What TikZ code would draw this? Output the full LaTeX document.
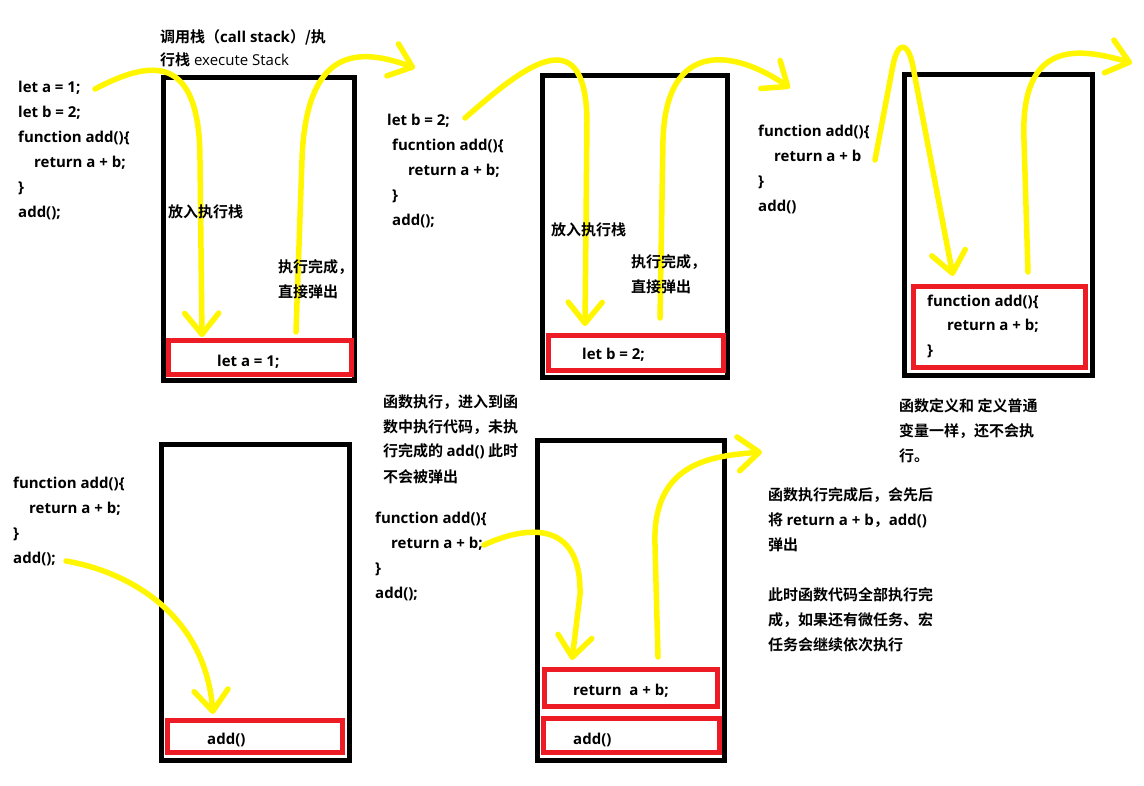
\documentclass[tikz,border=0pt]{standalone}
\usepackage{fontspec}
\setmainfont{Open Sans}[BoldFont={Open Sans Bold}]
\newfontfamily\cjk{Noto Sans CJK SC}[BoldFont={Noto Sans CJK SC Bold}]
\usetikzlibrary{arrows.meta}
\definecolor{paintred}{RGB}{237,28,36}
\definecolor{paintyellow}{RGB}{255,246,0}
\tikzset{
  stackbox/.style={draw=black, line width=4.5pt},
  redbox/.style={draw=paintred, line width=4.5pt},
  hand/.style={draw=paintyellow, line width=5.5pt, line cap=round, line join=round,
    -{Straight Barb[length=21pt,width=34pt,round]}},
  code/.style={font=\bfseries\fontsize{15}{25}\selectfont, align=left, anchor=base west, inner sep=0pt},
  zh/.style={code, font=\bfseries\cjk\fontsize{15}{25}\selectfont},
}
\begin{document}
\begin{tikzpicture}[x=1pt,y=-1pt]
  \fill[white] (0,0) rectangle (1144,786);
  \useasboundingbox (0,0) rectangle (1144,786);

  \draw[stackbox] (163.5,77.5) rectangle (354.5,380.5);
  \draw[redbox] (168.5,340.5) rectangle (351.5,374.5);
  \draw[stackbox] (542.5,75.5) rectangle (727.5,377.5);
  \draw[redbox] (548.5,335.5) rectangle (723.5,370.5);
  \draw[stackbox] (904.5,74.5) rectangle (1092.5,375.5);
  \draw[redbox] (913.5,286.5) rectangle (1085.5,367.5);
  \draw[stackbox] (161.5,444.5) rectangle (349.5,760.5);
  \draw[redbox] (167.5,720.5) rectangle (342.5,752.5);
  \draw[stackbox] (537.5,440.5) rectangle (724.5,760.5);
  \draw[redbox] (544.5,669.5) rectangle (717.5,706.5);
  \draw[redbox] (543.5,718.5) rectangle (719.5,752.5);

  \coordinate (inA) at (95,89);
  \coordinate (topA) at (202,337);
  \coordinate (outA) at (296,332);
  \coordinate (nextA) at (415,68);
  \coordinate (inB) at (465,118);
  \coordinate (topB) at (585,326);
  \coordinate (outB) at (660,318);
  \coordinate (nextB) at (790,88);
  \coordinate (inC) at (875,160);
  \coordinate (topC) at (953,276);
  \coordinate (outC) at (1028,272);
  \coordinate (nextC) at (1132,63);
  \coordinate (inD) at (66,561);
  \coordinate (topD) at (213,714);
  \coordinate (inE) at (484,545);
  \coordinate (topE) at (572,660);
  \coordinate (outE) at (658,657);
  \coordinate (nextE) at (762,452);

  \draw[hand] (inA) .. controls (150,60) and (200,52) .. (200,160) -- (topA);
  \draw[hand] (outA) -- (302,160) .. controls (306,45) and (360,48) .. (nextA);
  \draw[hand] (inB) .. controls (520,70) and (585,15) .. (587,120) -- (topB);
  \draw[hand] (outB) -- (663,140) .. controls (666,38) and (735,50) .. (nextB);
  \draw[hand] (inC) -- (893,65) .. controls (898,40) and (909,40) .. (914,72) -- (topC);
  \draw[hand] (outC) -- (1024,140) .. controls (1020,38) and (1080,48) .. (nextC);
  \draw[hand] (inD) .. controls (130,572) and (205,615) .. (topD);
  \draw[hand] (inE) .. controls (520,528) and (582,515) .. (580,595) -- (topE);
  \draw[hand] (outE) -- (655,545) .. controls (652,462) and (712,456) .. (nextE);

  \node[code] (head) at (160,66) {{\cjk 调用栈（}call stack{\cjk ）/执}\\[-2pt]{\cjk 行栈} {\mdseries execute Stack}};

  \node[code] (srcA) at (18,218) {let a = 1;\\let b = 2;\\function add()\{\\\hspace*{16pt}return a + b;\\\}\\add();};
  \node[zh] (pushA) at (168,218) {放入执行栈};
  \node[zh] (popA) at (278,298) {执行完成，\\直接弹出};
  \node[code] (itemA) at (217,367) {let a = 1;};

  \node[code] (srcB) at (387,226) {let b = 2;\\\hspace*{5pt}fucntion add()\{\\\hspace*{21pt}return a + b;\\\hspace*{5pt}\}\\\hspace*{5pt}add();};
  \node[zh] (pushB) at (551,236) {放入执行栈};
  \node[zh] (popB) at (631,293) {执行完成，\\直接弹出};
  \node[code] (itemB) at (582,360) {let b = 2;};

  \node[code] (srcC) at (758,212) {function add()\{\\\hspace*{16pt}return a + b\\\}\\add()};
  \node[code] (itemC) at (927,356) {function add()\{\\\hspace*{20pt}return a + b;\\\}};
  \node[zh] (noteC) at (899,461) {函数定义和 定义普通\\变量一样，还不会执\\行。};

  \node[code] (srcD) at (13,563) {function add()\{\\\hspace*{16pt}return a + b;\\\}\\add();};
  \node[code] (itemD) at (207,744) {add()};

  \node[zh] (noteE) at (383,482) {函数执行，进入到函\\数中执行代码，未执\\行完成的 {\rmfamily add()} 此时\\不会被弹出};
  \node[code] (srcE) at (375,598) {function add()\{\\\hspace*{16pt}return a + b;\\\}\\add();};
  \node[code] (itemE) at (573,695) {return~~a + b;};
  \node[code] (itemF) at (573,744) {add()};
  \node[zh] (noteF) at (768,650) {函数执行完成后，会先后\\将 {\rmfamily return a + b}，{\rmfamily add()}\\弹出\\[25pt]此时函数代码全部执行完\\成，如果还有微任务、宏\\任务会继续依次执行};
\end{tikzpicture}
\end{document}
